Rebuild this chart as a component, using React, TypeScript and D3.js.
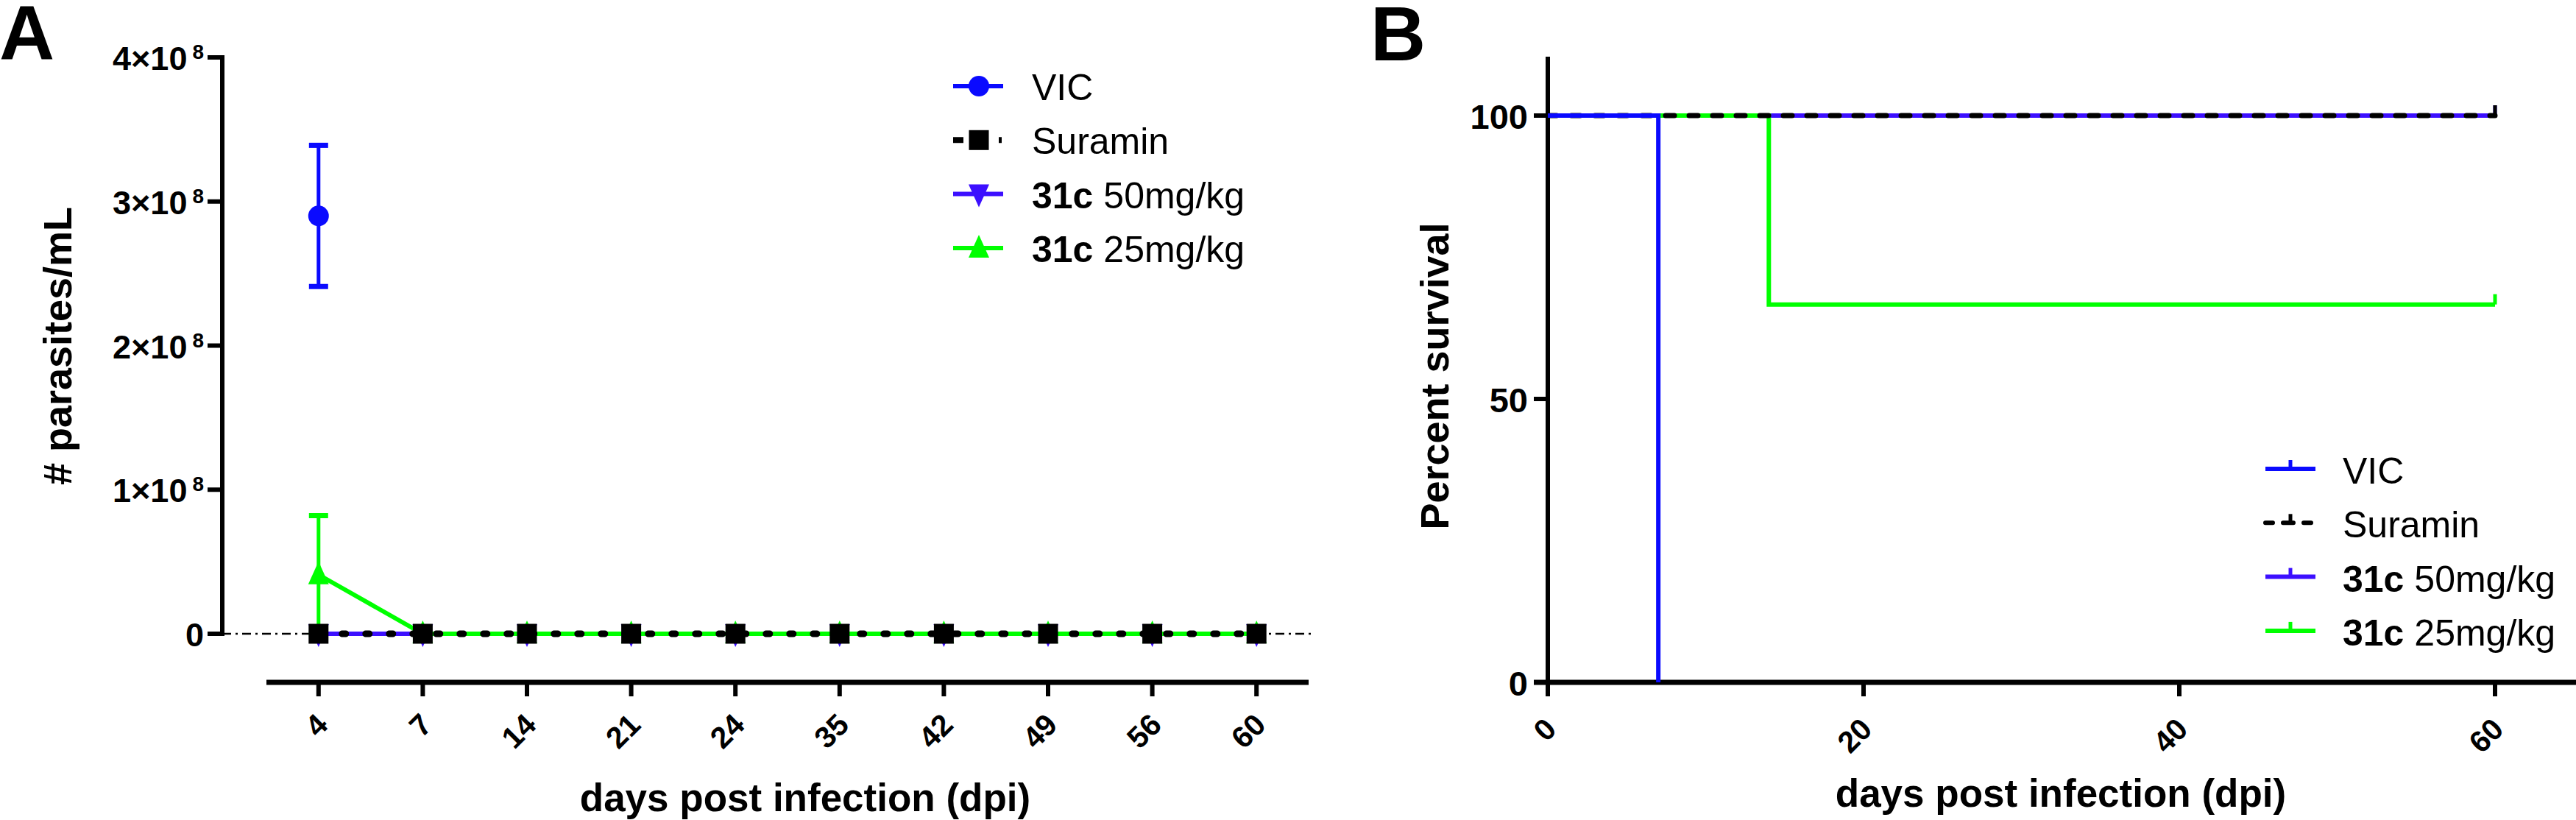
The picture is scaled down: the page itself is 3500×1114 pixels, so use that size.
import React from "react";
import * as d3 from "d3";

const FONT = "'Liberation Sans', Arial, Helvetica, sans-serif";

// ---- Panel A: parasitaemia (mean ± SD) ----
const dpiA = ["4", "7", "14", "21", "24", "35", "42", "49", "56", "60"];
const vicMean = [2.9e8, null, null, null, null, null, null, null, null, null];
const vicSD = [0.49e8, null, null, null, null, null, null, null, null, null];
const suraminMean = [0, 0, 0, 0, 0, 0, 0, 0, 0, 0];
const c50Mean = [0, 0, 0, 0, 0, 0, 0, 0, 0, 0];
const c25Mean = [0.41e8, 0, 0, 0, 0, 0, 0, 0, 0, 0];
const c25SD = [0.41e8, 0, 0, 0, 0, 0, 0, 0, 0, 0];
const yTicksA = [0, 1e8, 2e8, 3e8, 4e8];
const yTickBaseA = ["0", "1×10", "2×10", "3×10", "4×10"];
const yTickExpA = ["", "8", "8", "8", "8"];

// ---- Panel B: Kaplan-Meier survival ----
const vicTime = [0, 7];
const vicSurv = [100, 0];
const suraminTime = [0, 60];
const suraminSurv = [100, 100];
const c50Time = [0, 60];
const c50Surv = [100, 100];
const c25Time = [0, 14, 60];
const c25Surv = [100, 66.67, 66.67];
const xTicksB = [0, 20, 40, 60];
const yTicksB = [0, 50, 100];

const legendBold = ["", "", "31c", "31c"];
const legendRest = ["VIC", "Suramin", " 50mg/kg", " 25mg/kg"];

const BLUE = "#0a0aff";
const PURPLE = "#3c0fff";
const GREEN = "#00ff00";
const BLACK = "#000";
const colors = [BLUE, BLACK, PURPLE, GREEN];

const upTri = "M0,-18L14,13L-14,13Z";
const downTri = "M0,18L14,-13L-14,-13Z";

function Marker({ kind, x, y, color }) {
  if (kind === 0) return <circle cx={x} cy={y} r={14} fill={color} />;
  if (kind === 1) return <rect x={x - 13.5} y={y - 13.5} width={27} height={27} fill={color} />;
  if (kind === 2) return <path d={downTri} transform={`translate(${x},${y})`} fill={color} />;
  return <path d={upTri} transform={`translate(${x},${y})`} fill={color} />;
}

function PanelA() {
  const xA = d3.scalePoint<string>().domain(dpiA).range([362, 1778]).padding(0.5);
  const yA = d3.scaleLinear().domain([0, 4e8]).range([861, 78]);

  const line = d3
    .line<number | null>()
    .defined((d) => d != null)
    .x((_, i) => xA(dpiA[i]) as number)
    .y((d) => yA(d as number));

  const errBar = (mean, sd, i, color) => {
    if (mean == null || !sd) return null;
    const x = xA(dpiA[i]) as number;
    const y0 = yA(mean - sd);
    const y1 = yA(mean + sd);
    return (
      <g key={`e${color}${i}`} stroke={color} strokeWidth={5}>
        <line x1={x} x2={x} y1={y0} y2={y1} />
        <line x1={x - 13} x2={x + 13} y1={y1} y2={y1} strokeWidth={7} />
        <line x1={x - 13} x2={x + 13} y1={y0} y2={y0} strokeWidth={7} />
      </g>
    );
  };

  const legX = 1330;
  const legY = (i) => 117 + i * 73.3;

  return (
    <g fontFamily={FONT}>
      <text x={-1} y={80} fontSize={104} fontWeight="bold">A</text>

      {/* zero reference line */}
      <line x1={302} x2={1782} y1={yA(0)} y2={yA(0)} stroke={BLACK} strokeWidth={2.5} strokeDasharray="12 6 3 6" />

      {/* y axis */}
      <line x1={302} x2={302} y1={yA(4e8) - 3} y2={yA(0) + 3} stroke={BLACK} strokeWidth={6} />
      {yTicksA.map((t, i) => (
        <g key={t}>
          <line x1={282} x2={302} y1={yA(t)} y2={yA(t)} stroke={BLACK} strokeWidth={6} />
          <text x={277} y={yA(t) + 17} textAnchor="end" fontSize={45} fontWeight="bold">
            {yTickBaseA[i]}
            {yTickExpA[i] && (
              <tspan dx={7} dy={-15} fontSize={28}>{yTickExpA[i]}</tspan>
            )}
          </text>
        </g>
      ))}
      <text transform={`translate(97,470) rotate(-90)`} textAnchor="middle" fontSize={54} fontWeight="bold">
        # parasites/mL
      </text>

      {/* x axis (offset) */}
      <line x1={362} x2={1778} y1={927} y2={927} stroke={BLACK} strokeWidth={7} />
      {dpiA.map((d) => (
        <g key={d}>
          <line x1={xA(d)} x2={xA(d)} y1={927} y2={946} stroke={BLACK} strokeWidth={6} />
          <text
            transform={`translate(${(xA(d) as number) + 15},987) rotate(-45)`}
            textAnchor="end"
            fontSize={41}
            fontWeight="bold"
          >
            {d}
          </text>
        </g>
      ))}
      <text x={1094} y={1102} textAnchor="middle" fontSize={53} fontWeight="bold">
        days post infection (dpi)
      </text>

      {/* series lines */}
      <path d={line(c50Mean) || ""} fill="none" stroke={PURPLE} strokeWidth={6} />
      <path d={line(c25Mean) || ""} fill="none" stroke={GREEN} strokeWidth={6} />
      <path d={line(suraminMean) || ""} fill="none" stroke={BLACK} strokeWidth={9} strokeDasharray="5 27" strokeLinecap="round" />

      {vicMean.map((m, i) => errBar(m, vicSD[i], i, BLUE))}
      {c25Mean.map((m, i) => errBar(m, c25SD[i], i, GREEN))}

      {c50Mean.map((m, i) => <Marker key={`p${i}`} kind={2} x={xA(dpiA[i])} y={yA(m)} color={PURPLE} />)}
      {c25Mean.map((m, i) => <Marker key={`g${i}`} kind={3} x={xA(dpiA[i])} y={yA(m)} color={GREEN} />)}
      {suraminMean.map((m, i) => <Marker key={`s${i}`} kind={1} x={xA(dpiA[i])} y={yA(m)} color={BLACK} />)}
      {vicMean.map((m, i) =>
        m == null ? null : <Marker key={`v${i}`} kind={0} x={xA(dpiA[i])} y={yA(m)} color={BLUE} />
      )}

      {/* legend */}
      {legendRest.map((name, i) => (
        <g key={name}>
          <line
            x1={legX - 35}
            x2={legX + 33}
            y1={legY(i)}
            y2={legY(i)}
            stroke={colors[i]}
            strokeWidth={i === 1 ? 8 : 6}
            strokeDasharray={i === 1 ? "14 48 4 20" : undefined}
          />
          <Marker kind={i} x={legX} y={legY(i)} color={colors[i]} />
          <text x={1402} y={legY(i) + 19} fontSize={50} style={{ whiteSpace: "pre" }}>
            {legendBold[i] && <tspan fontWeight="bold">{legendBold[i]}</tspan>}
            <tspan>{name}</tspan>
          </text>
        </g>
      ))}
    </g>
  );
}

function PanelB() {
  const xB = d3.scaleLinear().domain([0, 60]).range([2103, 3390]);
  const yB = d3.scaleLinear().domain([0, 110]).range([927, 80]);

  const step = (times, surv) =>
    d3
      .line<number>()
      .x((_, i) => xB(times[i]))
      .y((d) => yB(d))
      .curve(d3.curveStepAfter)(surv) || "";

  const censor = (times, surv, color) => {
    const t = times[times.length - 1];
    const s = surv[surv.length - 1];
    return <line x1={xB(t)} x2={xB(t)} y1={yB(s)} y2={yB(s) - 14} stroke={color} strokeWidth={5} />;
  };

  const legX = 3112;
  const legY = (i) => 637 + i * 73.3;

  return (
    <g fontFamily={FONT}>
      <text x={1862} y={82} fontSize={104} fontWeight="bold">B</text>

      {/* y axis */}
      <line x1={2103} x2={2103} y1={77} y2={946} stroke={BLACK} strokeWidth={6} />
      {yTicksB.map((t) => (
        <g key={t}>
          <line x1={2084} x2={2103} y1={yB(t)} y2={yB(t)} stroke={BLACK} strokeWidth={6} />
          <text x={2076} y={yB(t) + 18} textAnchor="end" fontSize={47} fontWeight="bold">
            {t}
          </text>
        </g>
      ))}
      <text transform={`translate(1968,511) rotate(-90)`} textAnchor="middle" fontSize={54} fontWeight="bold">
        Percent survival
      </text>

      {/* x axis */}
      <line x1={2084} x2={3500} y1={927} y2={927} stroke={BLACK} strokeWidth={7} />
      {xTicksB.map((t) => (
        <g key={t}>
          <line x1={xB(t)} x2={xB(t)} y1={927} y2={946} stroke={BLACK} strokeWidth={6} />
          <text
            transform={`translate(${xB(t) + 14},993) rotate(-45)`}
            textAnchor="end"
            fontSize={41}
            fontWeight="bold"
          >
            {t}
          </text>
        </g>
      ))}
      <text x={2800} y={1096} textAnchor="middle" fontSize={53} fontWeight="bold">
        days post infection (dpi)
      </text>

      {/* survival curves */}
      <path d={step(c50Time, c50Surv)} fill="none" stroke={PURPLE} strokeWidth={6} />
      {censor(c50Time, c50Surv, PURPLE)}
      <path d={step(c25Time, c25Surv)} fill="none" stroke={GREEN} strokeWidth={6} />
      {censor(c25Time, c25Surv, GREEN)}
      <path d={step(suraminTime, suraminSurv)} fill="none" stroke={BLACK} strokeWidth={7} strokeDasharray="12 20" strokeLinecap="round" />
      {censor(suraminTime, suraminSurv, BLACK)}
      <path d={step(vicTime, vicSurv)} fill="none" stroke={BLUE} strokeWidth={6} />

      {/* legend */}
      {legendRest.map((name, i) => (
        <g key={name}>
          <line
            x1={legX - 34}
            x2={legX + 34}
            y1={legY(i)}
            y2={legY(i)}
            stroke={colors[i]}
            strokeWidth={6}
            strokeDasharray={i === 1 ? "10 14 14 14" : undefined}
            strokeLinecap={i === 1 ? "round" : "butt"}
          />
          <line x1={legX} x2={legX} y1={legY(i)} y2={legY(i) - 12} stroke={colors[i]} strokeWidth={5} />
          <text x={3183} y={legY(i) + 20} fontSize={50} style={{ whiteSpace: "pre" }}>
            {legendBold[i] && <tspan fontWeight="bold">{legendBold[i]}</tspan>}
            <tspan>{name}</tspan>
          </text>
        </g>
      ))}
    </g>
  );
}

export default function App() {
  return (
    <svg
      width={3500}
      height={1114}
      viewBox="0 0 3500 1114"
      style={{ display: "block", position: "absolute", left: 0, top: 0, background: "#fff" }}
    >
      <rect width={3500} height={1114} fill="#fff" />
      <PanelA />
      <PanelB />
    </svg>
  );
}
